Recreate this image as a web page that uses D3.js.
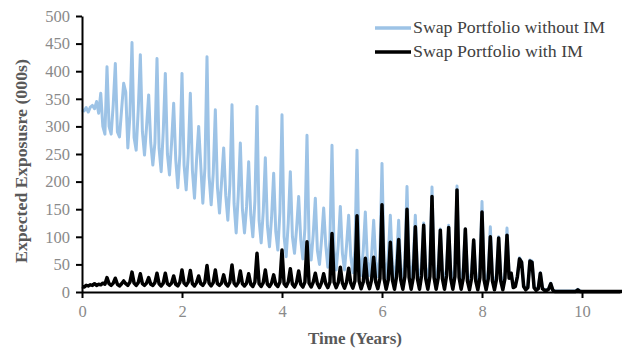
<!DOCTYPE html>
<html><head><meta charset="utf-8">
<script src="https://cdn.jsdelivr.net/npm/d3@7/dist/d3.min.js"></script>
<style>body{margin:0;background:#fff} svg{display:block}</style>
</head><body><svg id="c" width="622" height="349"></svg>
<script>
// time step between points: half a month (years)
const stepYears = 1 / 24;
const xTickValues = [0, 2, 4, 6, 8, 10];
const yTickValues = [0, 50, 100, 150, 200, 250, 300, 350, 400, 450, 500];
const seriesNames = ["Swap Portfolio without IM", "Swap Portfolio with IM"];
const xTitle = "Time (Years)";
const yTitle = "Expected Exposusre (000s)";

// Expected exposure (000s), one value every half month
const withoutIM = [
  330,328,334,326,335,338,332,345,324,360,300,286,
  408,300,286,340, 414,290,281,330, 378,362,261,320,
  452,280,257,330, 430,290,248,300, 357,270,230,270,
  423,260,218,290, 396,250,212,270, 342,240,189,250,
  396,230,185,250, 360,220,170,240, 300,230,161,225,
  426,210,158,215, 330,190,143,200, 261,175,130,195,
  339,160,107,175, 270,150,107,155, 236,140,100,165,
  336,130,89,145, 243,120,82,135, 215,110,76,145,
  321,100,64,125, 218,100,70,115, 173,95,60,115,
  284,90,58,105, 170,75,50,95, 152,85,45,95,
  266,75,40,85, 155,70,40,85, 139,65,35,75,
  257,65,30,75, 145,55,30,65, 130,55,28,65,
  233,55,25,65, 139,50,22,60, 130,45,20,60,
  191,50,20,60, 139,45,18,55, 125,45,18,55,
  190,40,16,50, 114,40,15,45, 121,40,14,50,
  192,40,14,45, 114,35,12,40, 94,30,12,45,
  164,35,10,40, 118,30,10,35, 100,30,8,35,
  116,30,34,10,12,30,62,55,12,6,10,58,
  56,10,5,8,35,8,4,4,6,16,4,2,
  2,2,2,2,2,2,2,2,2,2,5,2,
  1,1,1,1,1,1,1,1,1,1,1,1,
  1,1,1,1,1,1,1,1,1
];
const withIM = [
  10,9,12,11,13,12,15,12,14,13,16,14,
  26,15,12,16, 25,14,11,15, 20,15,12,18,
  36,16,12,17, 33,15,12,16, 26,14,12,17,
  34,15,11,16, 34,15,12,16, 29,14,11,18,
  40,16,12,18, 39,15,11,17, 29,15,12,18,
  48,16,11,17, 40,15,12,16, 31,15,11,18,
  49,16,11,17, 38,15,11,16, 33,14,10,18,
  70,15,10,17, 40,14,10,16, 31,14,10,18,
  76,15,10,18, 42,14,9,17, 38,14,9,18,
  91,16,9,18, 34,15,8,17, 33,15,8,18,
  106,18,8,17, 45,16,7,18, 43,16,7,20,
  138,20,6,18, 61,18,6,22, 63,18,6,24,
  158,24,5,22, 90,22,5,28, 95,22,5,28,
  150,26,5,26, 118,24,5,30, 121,24,5,28,
  173,26,5,26, 112,24,5,30, 117,24,5,28,
  185,26,5,25, 114,20,4,25, 94,20,4,26,
  145,22,4,24, 100,20,4,24, 98,20,4,24,
  103,25,34,8,10,28,60,54,10,4,8,56,
  54,8,3,6,34,6,3,3,5,15,3,1,
  1,1,1,1,1,1,1,1,1,1,4,1,
  1,1,1,1,1,1,1,1,1,1,1,1,
  1,1,1,1,1,1,1,1,1
];
const seriesColors = ["#9dc3e6", "#000000"];
const seriesWidths = [3, 3.5];

const svg = d3.select("#c");
const x = d3.scaleLinear().domain([0, 10.76]).range([82, 620]);
const y = d3.scaleLinear().domain([0, 500]).range([292, 16]);

const line = d3.line().x((d, i) => x(i * stepYears)).y(d => y(d));

// series
[withoutIM, withIM].forEach((s, k) => {
  svg.append("path").datum(s)
    .attr("fill", "none")
    .attr("stroke", seriesColors[k])
    .attr("stroke-width", seriesWidths[k])
    .attr("stroke-linejoin", "round")
    .attr("d", line);
});

// axes
const fontFam = "'Liberation Serif','Times New Roman',serif";
const yAxis = svg.append("g").attr("transform", "translate(82,0)")
  .call(d3.axisLeft(y).tickValues(yTickValues).tickSize(6).tickSizeOuter(0).tickPadding(6));
const xAxis = svg.append("g").attr("transform", "translate(0,292)")
  .call(d3.axisBottom(x).tickValues(xTickValues).tickSize(6).tickSizeOuter(0).tickPadding(7));
[yAxis, xAxis].forEach(g => {
  g.select(".domain").attr("stroke", "#000").attr("stroke-width", 2);
  g.selectAll(".tick line").attr("stroke", "#000").attr("stroke-width", 2);
  g.selectAll(".tick text").attr("fill", "#8a8a8a")
    .style("font-family", fontFam).style("font-size", "16.5px");
});

// axis titles
svg.append("text").attr("x", 355).attr("y", 344).attr("text-anchor", "middle")
  .style("font-family", fontFam).style("font-size", "16.5px").style("font-weight", "bold")
  .attr("textLength", 94).attr("lengthAdjust", "spacingAndGlyphs")
  .attr("fill", "#595959").text(xTitle);
svg.append("text").attr("transform", "translate(27,161) rotate(-90)").attr("text-anchor", "middle")
  .style("font-family", fontFam).style("font-size", "17px").style("font-weight", "bold")
  .attr("textLength", 204).attr("lengthAdjust", "spacingAndGlyphs")
  .attr("fill", "#595959").text(yTitle);

// legend
const legY = [28, 52];
const legLen = [192, 170];
seriesNames.forEach((name, k) => {
  svg.append("line").attr("x1", 375).attr("x2", 411).attr("y1", legY[k]).attr("y2", legY[k])
    .attr("stroke", seriesColors[k]).attr("stroke-width", 3.5);
  svg.append("text").attr("x", 413).attr("y", legY[k] + 5)
    .style("font-family", fontFam).style("font-size", "17px")
    .attr("textLength", legLen[k]).attr("lengthAdjust", "spacingAndGlyphs")
    .attr("fill", "#404040").text(name);
});
</script></body></html>
